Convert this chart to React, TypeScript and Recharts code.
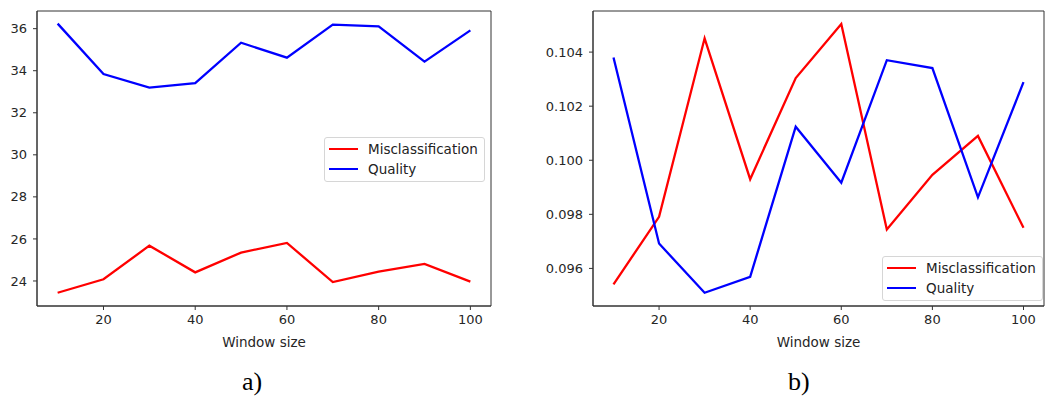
import { LineChart, Line, XAxis, YAxis, Legend, ReferenceArea } from 'recharts'

const windowSizes = [10, 20, 30, 40, 50, 60, 70, 80, 90, 100]

// panel a)
const misclassA = [23.44, 24.08, 25.68, 24.41, 25.35, 25.81, 23.95, 24.44, 24.81, 23.97]
const qualityA = [36.24, 33.84, 33.2, 33.41, 35.33, 34.62, 36.19, 36.11, 34.43, 35.92]
const yTicksA = [24, 26, 28, 30, 32, 34, 36]

// panel b)
const misclassB = [0.09541, 0.09791, 0.10451, 0.0993, 0.10304, 0.10504, 0.09744, 0.09946, 0.1009, 0.0975]
const qualityB = [0.1038, 0.09692, 0.0951, 0.09569, 0.10124, 0.09917, 0.1037, 0.10341, 0.09863, 0.10289]
const yTicksB = [0.096, 0.098, 0.1, 0.102, 0.104]

const xTicks = [20, 40, 60, 80, 100]
const xDomain: [number, number] = [5.5, 104.5]
const seriesNames = ['Misclassification', 'Quality']
const panelLabels = ['a)', 'b)']

const dataA = windowSizes.map((w, i) => ({ w, mis: misclassA[i], qual: qualityA[i] }))
const dataB = windowSizes.map((w, i) => ({ w, mis: misclassB[i], qual: qualityB[i] }))

const font = 'DejaVu Sans, sans-serif'
const axisColor = '#333'
const tickStyle = { fontSize: 13, fill: '#262626', fontFamily: font }

const LegendBox = () => (
  <div
    style={{
      background: '#fff',
      border: '1px solid #d6d6d6',
      borderRadius: 3,
      padding: '1px 6px 2px 4px',
      fontFamily: font,
      fontSize: 13.5,
      color: '#222',
    }}
  >
    {seriesNames.map((name, i) => (
      <div key={name} style={{ display: 'flex', alignItems: 'center', height: 20 }}>
        <span
          style={{
            display: 'inline-block',
            width: 29,
            height: 2.5,
            background: i === 0 ? '#ff0000' : '#0000ff',
            marginRight: 10,
          }}
        />
        <span>{name}</span>
      </div>
    ))}
  </div>
)

interface PanelProps {
  data: any[]
  width: number
  yWidth: number
  rightMargin: number
  domain: [number, number]
  ticks: number[]
  fmt?: (v: number) => string
  legendPos: { left: number; top: number }
}

const Panel = ({ data, width, yWidth, rightMargin, domain, ticks, fmt, legendPos }: PanelProps) => (
  <LineChart width={width} height={360} data={data} margin={{ top: 11, right: rightMargin, bottom: 14, left: 0 }}>
    <XAxis
      dataKey="w"
      type="number"
      domain={xDomain}
      ticks={xTicks}
      allowDataOverflow
      height={40}
      tick={tickStyle}
      tickSize={4}
      tickMargin={5}
      stroke={axisColor}
      label={{ value: 'Window size', position: 'insideBottom', offset: -1, style: { fontSize: 13.5, fill: '#262626', fontFamily: font } }}
    />
    <YAxis
      type="number"
      domain={domain}
      ticks={ticks}
      allowDataOverflow
      width={yWidth}
      tick={tickStyle}
      tickSize={4}
      tickMargin={6}
      tickFormatter={fmt}
      stroke={axisColor}
    />
    {/* full frame like matplotlib spines */}
    <ReferenceArea
      x1={xDomain[0]}
      x2={xDomain[1]}
      y1={domain[0]}
      y2={domain[1]}
      fill="none"
      fillOpacity={0}
      stroke={axisColor}
      strokeWidth={1}
      strokeOpacity={1}
      ifOverflow="visible"
    />
    <Legend
      layout="vertical"
      align="center"
      verticalAlign="middle"
      wrapperStyle={{ left: legendPos.left, top: legendPos.top, width: 'auto' }}
      content={() => <LegendBox />}
    />
    <Line dataKey="mis" name={seriesNames[0]} stroke="#ff0000" strokeWidth={2.3} dot={false} isAnimationActive={false} />
    <Line dataKey="qual" name={seriesNames[1]} stroke="#0000ff" strokeWidth={2.3} dot={false} isAnimationActive={false} />
  </LineChart>
)

const App = () => (
  <div style={{ position: 'fixed', left: 0, top: 0, width: 1045, height: 403, background: '#fff', overflow: 'hidden' }}>
    <div style={{ position: 'absolute', left: 0, top: 0 }}>
      <Panel
        data={dataA}
        width={500}
        yWidth={37}
        rightMargin={9}
        domain={[22.81, 36.84]}
        ticks={yTicksA}
        legendPos={{ left: 324, top: 137 }}
      />
    </div>
    <div style={{ position: 'absolute', left: 540, top: 0 }}>
      <Panel
        data={dataB}
        width={505}
        yWidth={53}
        rightMargin={1}
        domain={[0.09461, 0.10552]}
        ticks={yTicksB}
        fmt={(v: number) => v.toFixed(3)}
        legendPos={{ left: 342, top: 256 }}
      />
    </div>
    {panelLabels.map((t, i) => (
      <div
        key={t}
        style={{
          position: 'absolute',
          left: i === 0 ? 242 : 788,
          top: 366,
          fontFamily: 'Liberation Serif, serif',
          fontSize: 26,
          lineHeight: '32px',
          color: '#000',
        }}
      >
        {t}
      </div>
    ))}
  </div>
)

export default App
